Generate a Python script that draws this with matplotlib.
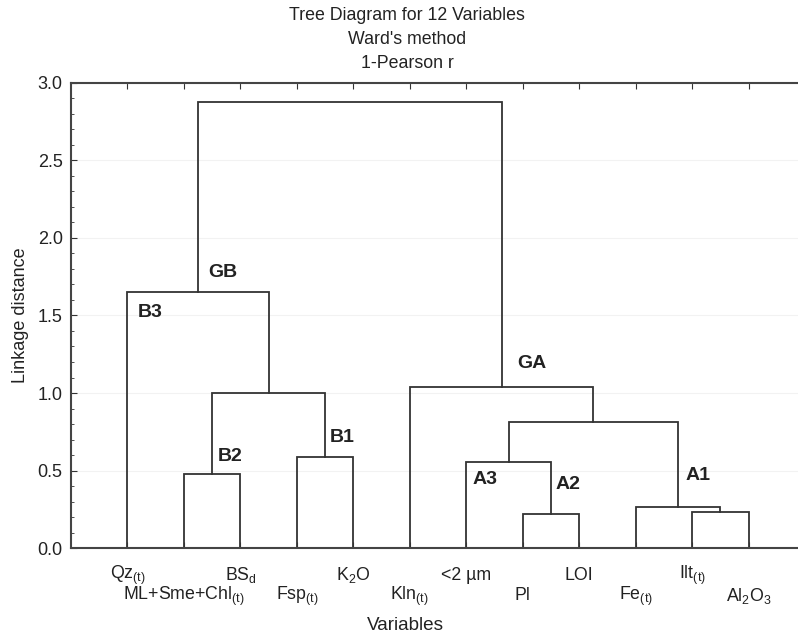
import numpy as np
import matplotlib
matplotlib.use("Agg")
import matplotlib.pyplot as plt
from matplotlib.ticker import MultipleLocator
import matplotlib.transforms as mtrans

plt.rcParams['font.family'] = ['Liberation Sans', 'DejaVu Sans']
plt.rcParams['mathtext.fontset'] = 'custom'
plt.rcParams['mathtext.rm'] = 'Liberation Sans'
plt.rcParams['mathtext.it'] = 'Liberation Sans:italic'
plt.rcParams['mathtext.bf'] = 'Liberation Sans:bold'

# leaves in plotting order (left to right)
leaf_labels = [r'Qz$_{\mathrm{(t)}}$', r'ML+Sme+Chl$_{\mathrm{(t)}}$', r'BS$_{\mathrm{d}}$',
               r'Fsp$_{\mathrm{(t)}}$', r'K$_2$O', r'Kln$_{\mathrm{(t)}}$', '<2 µm', 'Pl',
               'LOI', r'Fe$_{\mathrm{(t)}}$', r'Ilt$_{\mathrm{(t)}}$', r'Al$_2$O$_3$']

# merges: (left node, right node, linkage distance); new nodes numbered from 12
merge_left = [7, 10, 9, 1, 3, 6, 17, 15, 5, 0, 21]
merge_right = [8, 11, 13, 2, 4, 12, 14, 16, 18, 19, 20]
merge_height = [0.22, 0.23, 0.265, 0.48, 0.59, 0.555, 0.81, 1.00, 1.04, 1.65, 2.88]

# group labels
group_names = ['GB', 'B3', 'B2', 'B1', 'GA', 'A3', 'A2', 'A1']
group_x = [2.69, 1.40, 2.81, 4.80, 8.16, 7.33, 8.80, 11.10]
group_y = [1.78, 1.52, 0.59, 0.71, 1.19, 0.445, 0.41, 0.465]

fig = plt.figure(figsize=(7.98, 6.38), dpi=100)
ax = fig.add_axes([0.089, 0.141, 0.920, 0.729])

n = len(leaf_labels)
node_x = {i: i + 1 for i in range(n)}
node_y = {i: 0.0 for i in range(n)}
lc = '#333333'
for k, (a, b, h) in enumerate(zip(merge_left, merge_right, merge_height)):
    xa, xb = node_x[a], node_x[b]
    ax.plot([xa, xa, xb, xb], [node_y[a], h, h, node_y[b]], color=lc, lw=1.3,
            solid_joinstyle='miter')
    node_x[n + k] = (xa + xb) / 2
    node_y[n + k] = h

for name, gx, gy in zip(group_names, group_x, group_y):
    ax.text(gx, gy, name, ha='center', va='center', fontsize=14, fontweight='bold',
            color='#222222')

ax.set_xlim(0, n + 1)
ax.set_ylim(0, 3.0)
ax.set_xticks(range(1, n + 1))
ax.set_xticklabels([])
ax.yaxis.set_major_locator(MultipleLocator(0.5))
ax.yaxis.set_minor_locator(MultipleLocator(0.1))
ax.yaxis.set_major_formatter(matplotlib.ticker.FormatStrFormatter('%.1f'))
ax.tick_params(axis='both', which='both', direction='in', top=True, right=False,
               labelsize=13, colors='#333333', labelcolor='#222222')
ax.tick_params(axis='y', which='major', length=4, pad=6)
ax.tick_params(axis='y', which='minor', length=2)
ax.tick_params(axis='x', which='major', length=4)
ax.yaxis.grid(True, color='#f2f2f2', lw=0.8)
ax.set_axisbelow(True)
for sp in ax.spines.values():
    sp.set_color('#444444')
    sp.set_linewidth(1.5)

trans = mtrans.blended_transform_factory(ax.transData, ax.transAxes)
for i, lab in enumerate(leaf_labels):
    yoff = -0.058 if i % 2 == 0 else -0.103
    ax.text(i + 1, yoff, lab, transform=trans, ha='center', va='center',
            fontsize=12.8, color='#222222')

ax.set_ylabel('Linkage distance', fontsize=13, color='#222222', labelpad=6)
fig.text(0.508, 1 - 626 / 638, 'Variables', ha='center', va='center', fontsize=13.6,
         color='#222222')

title_lines = ['Tree Diagram for 12 Variables', "Ward's method", '1-Pearson r']
for j, t in enumerate(title_lines):
    fig.text(0.510, 1 - (16 + 23.5 * j) / 638, t, ha='center', va='center',
             fontsize=12.8, color='#222222')

fig.savefig('out.png', dpi=100)
